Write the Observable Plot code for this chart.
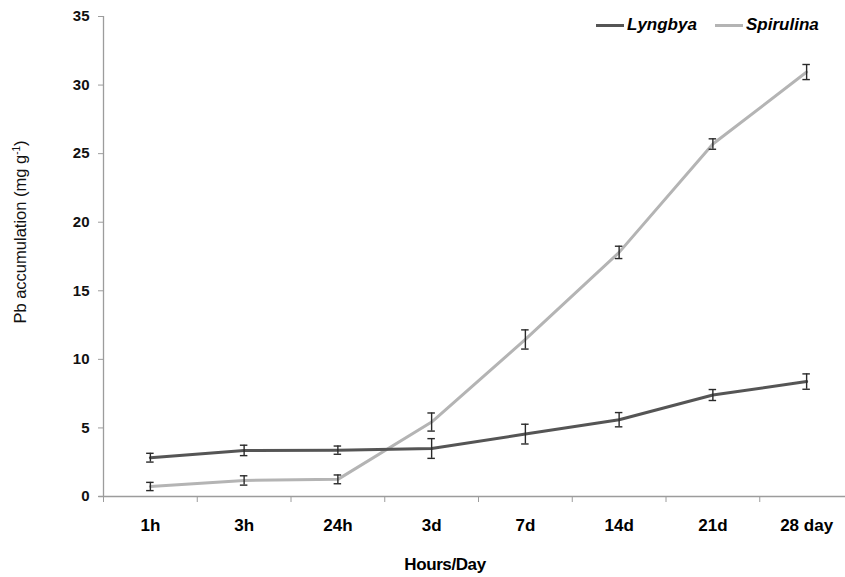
<!DOCTYPE html>
<html>
<head>
<meta charset="utf-8">
<script src="https://cdn.jsdelivr.net/npm/d3@7"></script>
<script src="https://cdn.jsdelivr.net/npm/@observablehq/plot@0.6"></script>
<style>
  html, body { margin: 0; padding: 0; background: #fff; }
  #wrap { position: relative; width: 845px; height: 577px; font-family: "Liberation Sans", Arial, sans-serif; }
  #wrap svg { position: absolute; left: 0; top: 0; overflow: visible; }
  .leg { position: absolute; top: 14px; height: 22px; display: flex; align-items: center; font-weight: bold; font-style: italic; font-size: 17px; color: #000; }
  .leg .sw { width: 28px; height: 3px; margin-right: 3px; }
  #ytitle { position: absolute; left: 20px; top: 232px; transform: translate(-50%, -50%) rotate(-90deg); white-space: nowrap; font-size: 16.5px; color: #111; line-height: 18px; }
  #ytitle sup { font-size: 10px; vertical-align: 6px; line-height: 0; }
  #xtitle { position: absolute; left: 445px; top: 555px; line-height: 19px; transform: translateX(-50%); font-size: 17px; font-weight: bold; letter-spacing: -0.4px; color: #000; white-space: nowrap; }
</style>
</head>
<body>
<div id="wrap"></div>
<script>
// ---- data ----
const timeLabels = ["1h", "3h", "24h", "3d", "7d", "14d", "21d", "28 day"];
const lyngbyaMean = [2.83, 3.36, 3.38, 3.5, 4.55, 5.6, 7.4, 8.38];
const lyngbyaErr = [0.32, 0.38, 0.3, 0.72, 0.72, 0.52, 0.4, 0.56];
const spirulinaMean = [0.73, 1.17, 1.25, 5.43, 11.45, 17.8, 25.7, 30.95];
const spirulinaErr = [0.3, 0.34, 0.32, 0.66, 0.7, 0.45, 0.38, 0.55];
const yTicks = [0, 5, 10, 15, 20, 25, 30, 35];
const seriesNames = ["Lyngbya", "Spirulina"];

// ---- build table ----
const rows = [];
timeLabels.forEach((t, i) => {
  rows.push({series: "Lyngbya", i, v: lyngbyaMean[i], e: lyngbyaErr[i]});
  rows.push({series: "Spirulina", i, v: spirulinaMean[i], e: spirulinaErr[i]});
});
const lyng = rows.filter(d => d.series === "Lyngbya");
const spir = rows.filter(d => d.series === "Spirulina");
const colors = {Lyngbya: "#555555", Spirulina: "#b4b4b4"};
const axisGray = "#9c9c9c";
const boundaries = d3.range(-0.5, timeLabels.length, 1);
const capHalf = 0.04;

const chart = Plot.plot({
  width: 845,
  height: 577,
  marginTop: 16,
  marginBottom: 81,
  marginLeft: 103,
  marginRight: 0,
  style: {fontFamily: "'Liberation Sans', Arial, sans-serif", background: "transparent"},
  x: {domain: [-0.5, timeLabels.length - 0.5], range: [103, 853], axis: null},
  y: {domain: [0, 35], range: [496, 16], axis: null},
  marks: [
    Plot.axisY(yTicks, {tickSize: 5, tickPadding: 9, stroke: axisGray, fill: "#111", fontWeight: "bold", fontSize: 15, label: null}),
    Plot.ruleX([-0.5], {y1: 0, y2: 35, stroke: axisGray, strokeWidth: 1.3}),
    Plot.axisX(boundaries, {tickSize: 6, tickFormat: () => "", stroke: axisGray, label: null}),
    Plot.ruleY([0], {x1: -0.55, x2: timeLabels.length - 0.5, stroke: axisGray, strokeWidth: 1.3}),
    Plot.axisX(d3.range(timeLabels.length), {tickSize: 0, tickPadding: 22, tickFormat: i => timeLabels[i], fontWeight: "bold", fontSize: 17, fill: "#000", label: null, style: {letterSpacing: "-0.6px"}}),
    Plot.line(spir, {x: "i", y: "v", stroke: colors.Spirulina, strokeWidth: 3}),
    Plot.line(lyng, {x: "i", y: "v", stroke: colors.Lyngbya, strokeWidth: 3}),
    Plot.ruleX(rows, {x: "i", y1: d => d.v - d.e, y2: d => d.v + d.e, stroke: "#2a2a2a", strokeWidth: 1.4}),
    Plot.ruleY(rows, {y: d => d.v - d.e, x1: d => d.i - capHalf, x2: d => d.i + capHalf, stroke: "#2a2a2a", strokeWidth: 1.4}),
    Plot.ruleY(rows, {y: d => d.v + d.e, x1: d => d.i - capHalf, x2: d => d.i + capHalf, stroke: "#2a2a2a", strokeWidth: 1.4})
  ]
});

const wrap = document.getElementById("wrap");
wrap.appendChild(chart);

// legend
const legPos = {Lyngbya: 596, Spirulina: 715};
seriesNames.forEach(name => {
  const d = document.createElement("div");
  d.className = "leg";
  d.style.left = legPos[name] + "px";
  const sw = document.createElement("span");
  sw.className = "sw";
  sw.style.background = colors[name];
  d.appendChild(sw);
  const t = document.createElement("span");
  t.textContent = name;
  d.appendChild(t);
  wrap.appendChild(d);
});

const yt = document.createElement("div");
yt.id = "ytitle";
yt.innerHTML = "Pb accumulation (mg g<sup>-1</sup>)";
wrap.appendChild(yt);

const xt = document.createElement("div");
xt.id = "xtitle";
xt.textContent = "Hours/Day";
wrap.appendChild(xt);
</script>
</body>
</html>
